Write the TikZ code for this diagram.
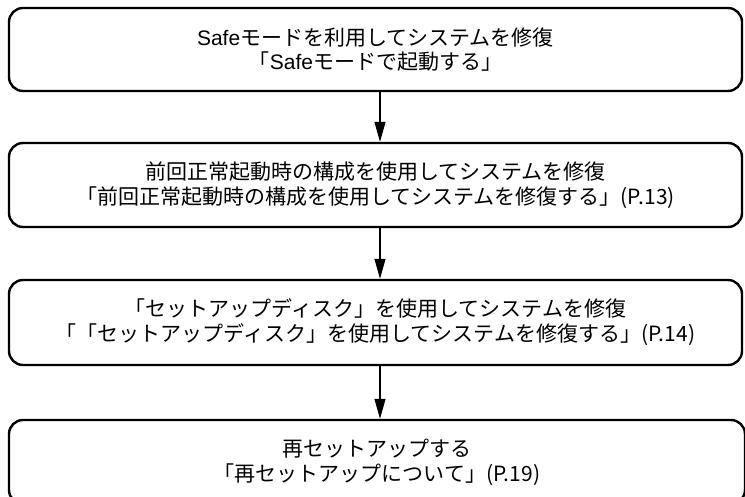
\documentclass[tikz,border=0pt]{standalone}
\usepackage{fontspec}
\setmainfont{Noto Sans CJK JP}
\newfontfamily\latfont{Liberation Sans}
\usetikzlibrary{arrows.meta}
\begin{document}
\begin{tikzpicture}[x=1pt,y=-1pt,
  stepbox/.style={draw=black, line width=2.4pt, rounded corners=14pt,
    minimum width=733pt, align=center, inner sep=0pt,
    font=\fontsize{21}{25}\selectfont},
  flow/.style={draw=black, line width=1.1pt, -{Triangle[length=20pt,width=11pt]}}]
\clip (0,0) rectangle (745,497);
\fill[white] (0,0) rectangle (745,497);
\node[stepbox, minimum height=83pt] (b1) at (375.5,49.5) {};
\node[align=center, inner sep=0pt, font=\fontsize{21}{24}\selectfont] (t1) at (b1.center)
  {{\latfont Safe}モードを利用してシステムを修復\\「{\latfont Safe}モードで起動する」};
\node[stepbox, minimum height=84pt] (b2) at (375.5,185)
  {前回正常起動時の構成を使用してシステムを修復\\「前回正常起動時の構成を使用してシステムを修復する」(P.13)};
\node[stepbox, minimum height=85pt] (b3) at (375.5,322.5)
  {「セットアップディスク」を使用してシステムを修復\\「「セットアップディスク」を使用してシステムを修復する」(P.14)};
\node[stepbox, minimum height=84pt, minimum width=736pt] (b4) at (377,462)
  {再セットアップする\\「再セットアップについて」(P.19)};
\coordinate (ax) at (380,0);
\draw[flow] (b1.south -| ax) -- (b2.north -| ax);
\draw[flow] (b2.south -| ax) -- (b3.north -| ax);
\draw[flow] (b3.south -| ax) -- (b4.north -| ax);
\end{tikzpicture}
\end{document}
